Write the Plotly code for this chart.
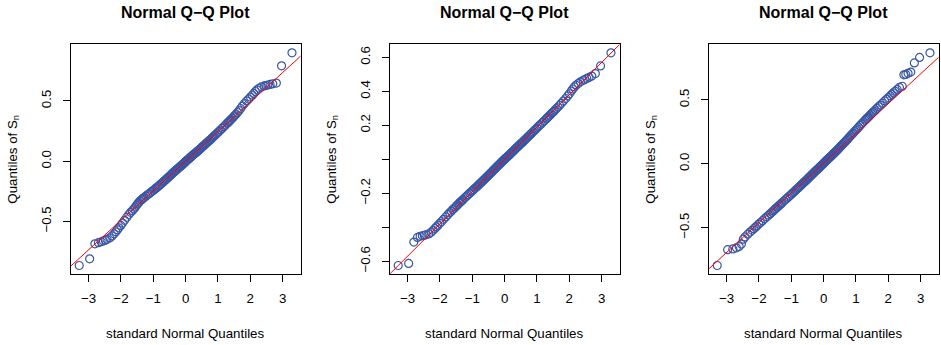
from statistics import NormalDist
import plotly.graph_objects as go

# ---------------- data ----------------
n_obs = 1000
ranks = [1, 2, 3, 4, 5, 6, 7, 8, 10, 12, 14, 16, 18, 20, 23, 26, 30, 35, 40, 45, 50, 55, 60, 65, 70, 75,
         80, 85, 90, 95, 100, 110, 120, 130, 140, 150, 160, 170, 180, 190, 200, 210, 220, 230, 240, 250,
         260, 270, 280, 290, 300, 310, 320, 330, 340, 350, 360, 370, 380, 390, 400, 410, 420, 430, 440,
         450, 460, 470, 480, 490, 500,
         501, 511, 521, 531, 541, 551, 561, 571, 581, 591, 601, 611, 621, 631, 641, 651, 661, 671, 681,
         691, 701, 711, 721, 731, 741, 751, 761, 771, 781, 791, 801, 811, 821, 831, 841, 851, 861, 871,
         881, 891, 901, 906, 911, 916, 921, 926, 931, 936, 941, 946, 951, 956, 961, 966, 971, 975, 978,
         981, 983, 985, 987, 989, 991, 993, 994, 995, 996, 997, 998, 999, 1000]

sample_1 = [-0.865, -0.810, -0.685, -0.676, -0.668, -0.662, -0.655, -0.648,
            -0.636, -0.620, -0.602, -0.586, -0.569, -0.553,
            -0.533, -0.513, -0.490, -0.465, -0.442, -0.424, -0.410, -0.396, -0.381, -0.365, -0.352,
            -0.340, -0.330, -0.322, -0.315, -0.308,
            -0.302, -0.290, -0.279, -0.269, -0.260, -0.250, -0.241, -0.232, -0.224, -0.216,
            -0.208, -0.199, -0.191, -0.183, -0.176, -0.168, -0.161, -0.153, -0.146, -0.139,
            -0.132, -0.125, -0.117, -0.110, -0.103, -0.096, -0.089, -0.083, -0.077, -0.071,
            -0.065, -0.059, -0.053, -0.047, -0.041, -0.035, -0.029, -0.023, -0.017, -0.010,
            -0.004,
            -0.003, 0.003, 0.009, 0.015, 0.021, 0.027, 0.033, 0.039, 0.045, 0.051,
            0.057, 0.063, 0.069, 0.075, 0.081, 0.087, 0.093, 0.100, 0.107, 0.114,
            0.121, 0.128, 0.135, 0.142, 0.150, 0.157, 0.165, 0.173, 0.181, 0.190,
            0.199, 0.208, 0.217, 0.227, 0.237, 0.248, 0.260, 0.272, 0.285, 0.299,
            0.314,
            0.322, 0.330, 0.338, 0.347, 0.357, 0.367, 0.378, 0.390, 0.404, 0.419,
            0.437, 0.457, 0.478, 0.500,
            0.516, 0.532, 0.548, 0.562, 0.578, 0.592, 0.605, 0.617,
            0.624, 0.628, 0.632, 0.637, 0.642, 0.648, 0.791, 0.899]

sample_2 = [-0.625, -0.613, -0.487, -0.460, -0.453, -0.450, -0.447, -0.444,
            -0.439, -0.430, -0.418, -0.407, -0.398, -0.389,
            -0.377, -0.366, -0.353, -0.339, -0.326, -0.315, -0.305, -0.296, -0.288, -0.280, -0.273,
            -0.266, -0.259, -0.253, -0.247, -0.242,
            -0.236, -0.226, -0.217, -0.208, -0.200, -0.192, -0.185, -0.178, -0.171, -0.164,
            -0.158, -0.151, -0.145, -0.139, -0.133, -0.127, -0.122, -0.116, -0.110, -0.104,
            -0.099, -0.094, -0.088, -0.083, -0.078, -0.073, -0.068, -0.062, -0.057, -0.052,
            -0.047, -0.042, -0.037, -0.033, -0.028, -0.023, -0.018, -0.013, -0.009, -0.004,
            0.001,
            0.001, 0.005, 0.009, 0.014, 0.018, 0.023, 0.027, 0.032, 0.037, 0.041,
            0.046, 0.051, 0.056, 0.061, 0.066, 0.071, 0.076, 0.081, 0.086, 0.091,
            0.096, 0.101, 0.107, 0.112, 0.118, 0.124, 0.130, 0.136, 0.142, 0.148,
            0.155, 0.162, 0.169, 0.176, 0.184, 0.192, 0.200, 0.208, 0.218, 0.227,
            0.238,
            0.243, 0.249, 0.255, 0.261, 0.268, 0.275, 0.282, 0.290, 0.299, 0.308,
            0.319, 0.330, 0.343, 0.358,
            0.373, 0.386, 0.402, 0.414, 0.426, 0.436, 0.446, 0.456,
            0.465, 0.470, 0.476, 0.482, 0.490, 0.505, 0.550, 0.627]

sample_3 = [-0.796, -0.672, -0.666, -0.658, -0.648, -0.628, -0.590, -0.572,
            -0.551, -0.534, -0.520, -0.508, -0.496, -0.486,
            -0.472, -0.460, -0.445, -0.429, -0.415, -0.402, -0.390, -0.379, -0.369, -0.359, -0.350,
            -0.342, -0.334, -0.326, -0.319, -0.312,
            -0.305, -0.292, -0.280, -0.269, -0.258, -0.248, -0.238, -0.229, -0.220, -0.211,
            -0.202, -0.194, -0.186, -0.178, -0.170, -0.162, -0.155, -0.147, -0.140, -0.133,
            -0.126, -0.119, -0.112, -0.105, -0.098, -0.091, -0.084, -0.077, -0.071, -0.064,
            -0.058, -0.052, -0.046, -0.040, -0.034, -0.028, -0.022, -0.016, -0.010, -0.004,
            0.003,
            0.004, 0.011, 0.017, 0.023, 0.029, 0.035, 0.041, 0.047, 0.053, 0.059,
            0.066, 0.072, 0.079, 0.085, 0.092, 0.099, 0.106, 0.113, 0.120, 0.128,
            0.135, 0.143, 0.151, 0.159, 0.167, 0.175, 0.184, 0.193, 0.202, 0.211,
            0.221, 0.231, 0.241, 0.252, 0.263, 0.275, 0.287, 0.299, 0.313, 0.327,
            0.341,
            0.349, 0.356, 0.364, 0.373, 0.382, 0.391, 0.401, 0.411, 0.422, 0.434,
            0.447, 0.460, 0.475, 0.492,
            0.506, 0.519, 0.533, 0.544, 0.556, 0.568, 0.582, 0.598,
            0.607, 0.697, 0.700, 0.708, 0.718, 0.790, 0.833, 0.869]

samples = [sample_1, sample_2, sample_3]
line_intercepts = [0.0, 0.0, 0.005]
line_slopes = [0.245, 0.19, 0.233]

x_ticks = [-3, -2, -1, 0, 1, 2, 3]
x_ticktext = ["\u22123", "\u22122", "\u22121", "0", "1", "2", "3"]
# labelled y ticks, and ticks whose label R dropped (overlap)
y_ticks = [[-0.5, 0.0, 0.5],
           [-0.6, -0.2, 0.2, 0.4, 0.6],
           [-0.5, 0.0, 0.5]]
y_ticktext = [["\u22120.5", "0.0", "0.5"],
              ["\u22120.6", "\u22120.2", "0.2", "0.4", "0.6"],
              ["\u22120.5", "0.0", "0.5"]]
y_unlabelled = [[], [-0.4, 0.0], []]

title_text = "Normal Q\u2212Q Plot"
xlab_text = "standard Normal Quantiles"
ylab_text = "Quantiles of S<sub>n</sub>"

# ---------------- layout geometry ----------------
W, H = 941, 345
box_left = [70.7, 389.7, 708.7]
box_w = 229.8
box_top, box_bottom = 44.3, 274.0

FONT = "Liberation Sans, Arial, Helvetica, sans-serif"
BLUE = "#3A56A6"

theo = [NormalDist().inv_cdf((r - 0.5) / n_obs) for r in ranks]

fig = go.Figure()
annotations = []
for i in range(3):
    s = samples[i]
    xa = "x" if i == 0 else f"x{i+1}"
    ya = "y" if i == 0 else f"y{i+1}"
    fig.add_trace(go.Scatter(
        x=theo, y=s, mode="markers", xaxis=xa, yaxis=ya,
        marker=dict(symbol="circle-open", size=8, color=BLUE, line=dict(width=1.2, color=BLUE)),
        hoverinfo="skip"))
    xl = [-4.0, 4.0]
    fig.add_trace(go.Scatter(
        x=xl, y=[line_intercepts[i] + line_slopes[i] * v for v in xl],
        mode="lines", xaxis=xa, yaxis=ya, line=dict(color="red", width=1), hoverinfo="skip"))

    xr = (max(theo) - min(theo)) * 0.04
    yr = (max(s) - min(s)) * 0.04
    dom_x = [box_left[i] / W, (box_left[i] + box_w) / W]
    dom_y = [1 - box_bottom / H, 1 - box_top / H]
    axis_common = dict(showline=True, linecolor="black", linewidth=1, mirror=True,
                       ticks="outside", ticklen=7, tickwidth=1, tickcolor="black",
                       showgrid=False, zeroline=False,
                       tickfont=dict(family=FONT, size=13.3, color="black"))
    fig.layout[f"xaxis{'' if i == 0 else i+1}"] = dict(
        domain=dom_x, anchor=ya, range=[min(theo) - xr, max(theo) + xr],
        tickvals=x_ticks, ticktext=x_ticktext, ticklabelstandoff=5, **axis_common)
    yax = dict(domain=dom_y, anchor=xa, range=[min(s) - yr, max(s) + yr],
               tickvals=y_ticks[i], ticktext=y_ticktext[i], tickangle=-90,
               ticklabelstandoff=6, **axis_common)
    if y_unlabelled[i]:
        yax["minor"] = dict(tickvals=y_unlabelled[i], ticks="outside", ticklen=7,
                            tickwidth=1, tickcolor="black", showgrid=False)
    fig.layout[f"yaxis{'' if i == 0 else i+1}"] = yax

    cx = (box_left[i] + box_w / 2) / W
    annotations.append(dict(text=f"<b>{title_text}</b>", x=cx, y=1 - 13 / H, xref="paper", yref="paper",
                            showarrow=False, xanchor="center", yanchor="middle",
                            font=dict(family=FONT, size=16, color="black")))
    annotations.append(dict(text=xlab_text, x=cx, y=1 - 333 / H, xref="paper", yref="paper",
                            showarrow=False, xanchor="center", yanchor="middle",
                            font=dict(family=FONT, size=13.3, color="black")))
    annotations.append(dict(text=ylab_text, x=(box_left[i] - 58) / W, y=1 - 159 / H,
                            xref="paper", yref="paper", textangle=-90,
                            showarrow=False, xanchor="center", yanchor="middle",
                            font=dict(family=FONT, size=13.3, color="black")))

fig.update_layout(width=W, height=H, margin=dict(l=0, r=0, t=0, b=0),
                  paper_bgcolor="white", plot_bgcolor="white", showlegend=False,
                  annotations=annotations)

fig.write_html("out.html", config={"displayModeBar": False},
               post_script="document.body.style.margin='0px';document.body.style.overflow='hidden';")
